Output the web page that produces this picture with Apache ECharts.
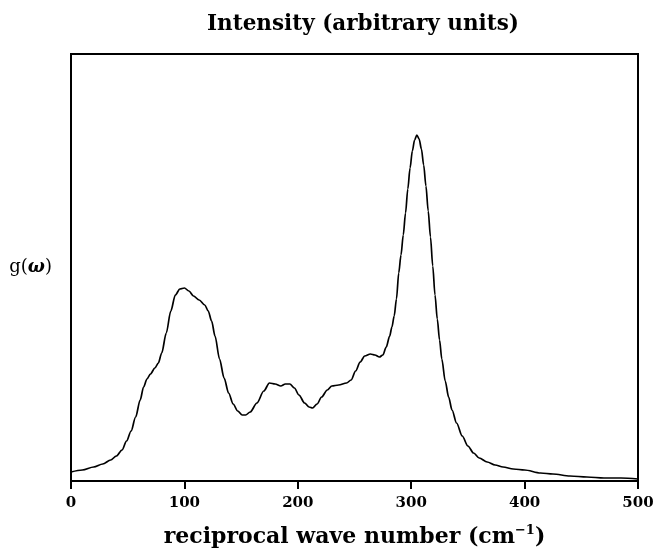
<!DOCTYPE html>
<html>
<head>
<meta charset="utf-8">
<script src="https://cdn.jsdelivr.net/npm/echarts@6/dist/echarts.min.js"></script>
<style>
  html, body { margin: 0; padding: 0; background: #fff; }
  #chart { width: 657px; height: 549px; }
</style>
</head>
<body>
<div id="chart"></div>
<script>
// wave number (cm^-1) and g(omega) intensity, arbitrary units
var waveNumber = [0, 10, 20, 28, 35, 40, 45, 49, 53, 57, 61, 64, 67, 70, 74, 77, 80, 84, 88, 92, 96, 100,
    104, 108, 113, 118, 121, 124, 127, 131, 135, 139, 143, 147, 151, 154, 158, 164, 170, 175, 180, 185,
    189, 193, 197, 201, 206, 210, 213, 217, 221, 226, 230, 236, 243, 247, 251, 255, 259, 264, 268, 272,
    275, 278, 281, 283, 285, 287, 289, 291, 293, 295, 297, 299, 301, 303, 305, 307, 309, 311, 313, 315,
    317, 319, 321, 323, 325, 327, 330, 333, 336, 340, 345, 350, 355, 360, 367, 374, 381, 390, 400, 414,
    425, 440, 455, 470, 485, 500];
var intensity = [9, 11, 14, 17, 21, 25, 31, 40, 50, 64, 81, 94, 102, 107, 113, 118, 128, 148, 170, 186, 192, 193,
    190, 185, 181, 176, 170, 160, 145, 122, 103, 88, 77, 70, 66, 66, 69, 78, 90, 98, 97, 95,
    97, 97, 93, 86, 78, 74, 73, 77, 84, 91, 95, 96, 98, 101, 110, 119, 125, 127, 126, 124,
    126, 134, 145, 154, 165, 182, 208, 226, 246, 268, 292, 313, 330, 341, 346, 342, 332, 316, 295, 270,
    244, 215, 186, 162, 141, 122, 100, 84, 71, 58, 45, 35, 28, 23, 19, 16, 14, 12, 11, 8,
    7, 5, 4, 3, 3, 2];
var xTicks = [0, 100, 200, 300, 400, 500];

var serif = "'DejaVu Serif', 'Liberation Serif', serif";

var points = [];
for (var i = 0; i < waveNumber.length; i++) {
    points.push([waveNumber[i], intensity[i]]);
}

var chart = echarts.init(document.getElementById("chart"));
chart.setOption({
    animation: false,
    backgroundColor: '#fff',
    title: {
        text: 'Intensity (arbitrary units)',
        left: 358,
        top: 8,
        textAlign: 'center',
        textStyle: {
            fontFamily: serif,
            fontWeight: 'bold',
            fontSize: 21.5,
            color: '#000'
        }
    },
    grid: {
        left: 71,
        right: 19,
        top: 54,
        bottom: 68,
        outerBoundsMode: 'none',
        show: true,
        borderColor: '#000',
        borderWidth: 2
    },
    xAxis: {
        type: 'value',
        min: xTicks[0],
        max: xTicks[xTicks.length - 1],
        interval: 100,
        name: '{a|reciprocal wave number (cm}{s|−1}{a|)}',
        nameLocation: 'middle',
        nameGap: 43,
        nameTextStyle: {
            rich: {
                a: { fontFamily: serif, fontWeight: 'bold', fontSize: 22, color: '#000' },
                s: { fontFamily: serif, fontWeight: 'bold', fontSize: 13, color: '#000', verticalAlign: 'top', padding: [0, 0, 14, 0] }
            }
        },
        axisLine: { show: true, lineStyle: { color: '#000', width: 2 } },
        axisTick: { show: true, length: 8, lineStyle: { color: '#000', width: 2 } },
        axisLabel: {
            show: true,
            margin: 15,
            fontFamily: serif,
            fontWeight: 'bold',
            fontSize: 15,
            color: '#000'
        },
        splitLine: { show: false }
    },
    yAxis: {
        type: 'value',
        min: 0,
        max: 427,
        name: '{g|g(}{w|ω}{g|)}',
        nameLocation: 'middle',
        nameRotate: 0,
        nameGap: 19,
        nameTextStyle: {
            rich: {
                g: { fontFamily: serif, fontSize: 18, color: '#000' },
                w: { fontFamily: serif, fontWeight: 'bold', fontStyle: 'italic', fontSize: 18, color: '#000' }
            }
        },
        axisLine: { show: true, lineStyle: { color: '#000', width: 2 } },
        axisTick: { show: false },
        axisLabel: { show: false },
        splitLine: { show: false }
    },
    series: [{
        type: 'line',
        data: points,
        smooth: 0.3,
        smoothMonotone: 'x',
        showSymbol: false,
        lineStyle: { color: '#000', width: 1.7 }
    }]
});
</script>
</body>
</html>
